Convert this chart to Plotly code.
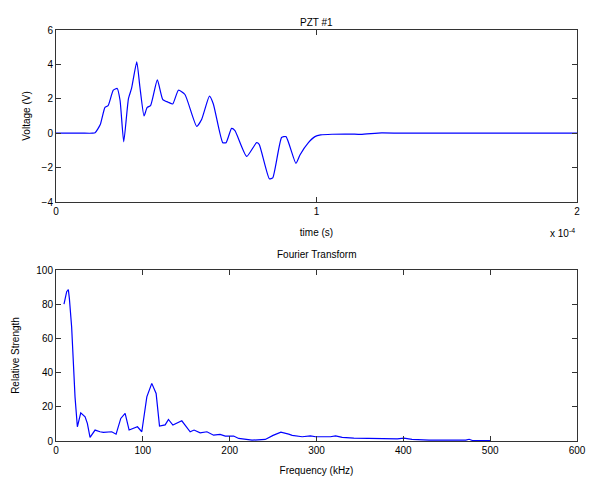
import plotly.graph_objects as go

# Time signal (time in units of 1e-4 s, voltage in V)
time_e4 = [0, 0.05, 0.10, 0.14, 0.15, 0.17, 0.188, 0.20, 0.22, 0.235, 0.246, 0.26, 0.278, 0.29,
           0.31, 0.322, 0.338, 0.35, 0.363, 0.389, 0.41, 0.431, 0.448, 0.47, 0.495, 0.54, 0.559,
           0.589, 0.604, 0.64, 0.653, 0.674, 0.687, 0.732, 0.77, 0.78, 0.819, 0.832, 0.866,
           0.883, 0.921, 0.937, 0.969, 0.994, 1.016, 1.06, 1.13, 1.17, 1.25, 1.32, 1.4, 1.6,
           1.8, 2.0]
voltage = [0, 0, 0, 0, 0.02, 0.5, 1.5, 1.6, 2.5, 2.6, 1.9, -0.5, 2.0, 2.6,
           4.15, 2.7, 1.0, 1.5, 1.6, 3.1, 1.95, 1.8, 1.7, 2.5, 2.25, 0.4, 0.8,
           2.15, 1.7, -0.55, -0.55, 0.28, 0.15, -1.35, -0.55, -0.65, -2.65, -2.6, -0.25,
           -0.2, -1.75, -1.25, -0.55, -0.2, -0.1, -0.06, -0.05, -0.07, 0.02, 0, 0, 0,
           0, 0]

# Fourier transform (frequency kHz, relative strength)
freq_khz = [9.2, 12.3, 14.2, 15.4, 18, 19.9, 21.9, 24.6, 26.2, 28.5, 33.5, 36.1, 39.2, 45,
            50.7, 54.5, 64.2, 69.2, 74.6, 79.6, 84.2, 93.8, 98.8, 104.6, 110.3, 115.3, 119.2,
            125.7, 129.5, 134.6, 144.9, 154.5, 159, 166, 173.8, 181.5, 189, 195, 204.6, 210.4,
            225.8, 241, 250, 259, 268, 272, 283.5, 293, 299, 316, 322, 329.6, 343, 373.8,
            393, 400.7, 410, 429.6, 471.9, 475.8, 479.6, 500.8]
strength = [80, 87.3, 88.6, 83.4, 66.8, 47.3, 25.8, 8.3, 12.2, 16.5, 14.2, 10.3, 2.1, 6.4,
            5.4, 5, 5.4, 4, 13.2, 16.1, 6.4, 8.3, 5.4, 25.8, 33.7, 27.8, 8.7,
            9.4, 12.6, 9.3, 11.8, 5.4, 6.4, 4.8, 5.4, 3.4, 3.9, 2.9, 2.9, 1.5,
            0.5, 0.9, 3.3, 5.2, 4, 3.3, 2.5, 3, 2.5, 2.5, 3, 2.1, 1.7, 1.3,
            1.3, 1.7, 0.9, 0.5, 0.5, 1, 0.3, 0.2]

top_xticks = [0, 1, 2]
top_yticks = [-4, -2, 0, 2, 4, 6]
bot_xticks = [0, 100, 200, 300, 400, 500, 600]
bot_yticks = [0, 20, 40, 60, 80, 100]

W, H = 593, 479
FONT = "Liberation Sans, Arial, sans-serif"

fig = go.Figure()
fig.add_trace(go.Scatter(x=time_e4, y=voltage, mode="lines",
                         line=dict(color="#0000ff", width=1.2, shape="spline", smoothing=0.5),
                         xaxis="x", yaxis="y", showlegend=False))
fig.add_trace(go.Scatter(x=freq_khz, y=strength, mode="lines",
                         line=dict(color="#0000ff", width=1.2),
                         xaxis="x2", yaxis="y2", showlegend=False))

axcommon = dict(showline=True, linecolor="#333333", linewidth=1, mirror="ticks",
                ticks="inside", ticklen=5, tickcolor="#333333", showgrid=False,
                zeroline=False, automargin=False,
                tickfont=dict(size=10, color="black", family=FONT))

fig.update_layout(
    template="none",
    width=W, height=H,
    margin=dict(l=0, r=0, t=0, b=0, autoexpand=False),
    paper_bgcolor="white", plot_bgcolor="white",
    font=dict(family=FONT, size=10, color="black"),
    xaxis=dict(domain=[56 / W, 577 / W], range=[0, 2], tickvals=top_xticks,
               ticktext=[str(v) for v in top_xticks], anchor="y",
               title=dict(text="time (s)", standoff=12, font=dict(size=10)), **axcommon),
    yaxis=dict(domain=[(H - 202) / H, (H - 30) / H], range=[-4, 6], tickvals=top_yticks,
               anchor="x", title=dict(text="Voltage (V)", standoff=9, font=dict(size=10)),
               **axcommon),
    xaxis2=dict(domain=[56 / W, 577 / W], range=[0, 600], tickvals=bot_xticks, anchor="y2",
                title=dict(text="Frequency (kHz)", standoff=11, font=dict(size=10)), **axcommon),
    yaxis2=dict(domain=[(H - 441) / H, (H - 270) / H], range=[0, 100], tickvals=bot_yticks,
                anchor="x2", title=dict(text="Relative Strength", standoff=14, font=dict(size=10)),
                **axcommon),
    annotations=[
        dict(text="PZT #1", x=316 / W, y=(H - 15) / H, xref="paper", yref="paper",
             showarrow=False, font=dict(size=10)),
        dict(text="Fourier Transform", x=316 / W, y=(H - 255) / H, xref="paper", yref="paper",
             showarrow=False, font=dict(size=10)),
        dict(text="x 10<sup>-4</sup>", x=577 / W, y=(H - 233) / H, xref="paper", yref="paper",
             xanchor="right", showarrow=False, font=dict(size=10)),
    ],
)

fig.write_html("out.html")
